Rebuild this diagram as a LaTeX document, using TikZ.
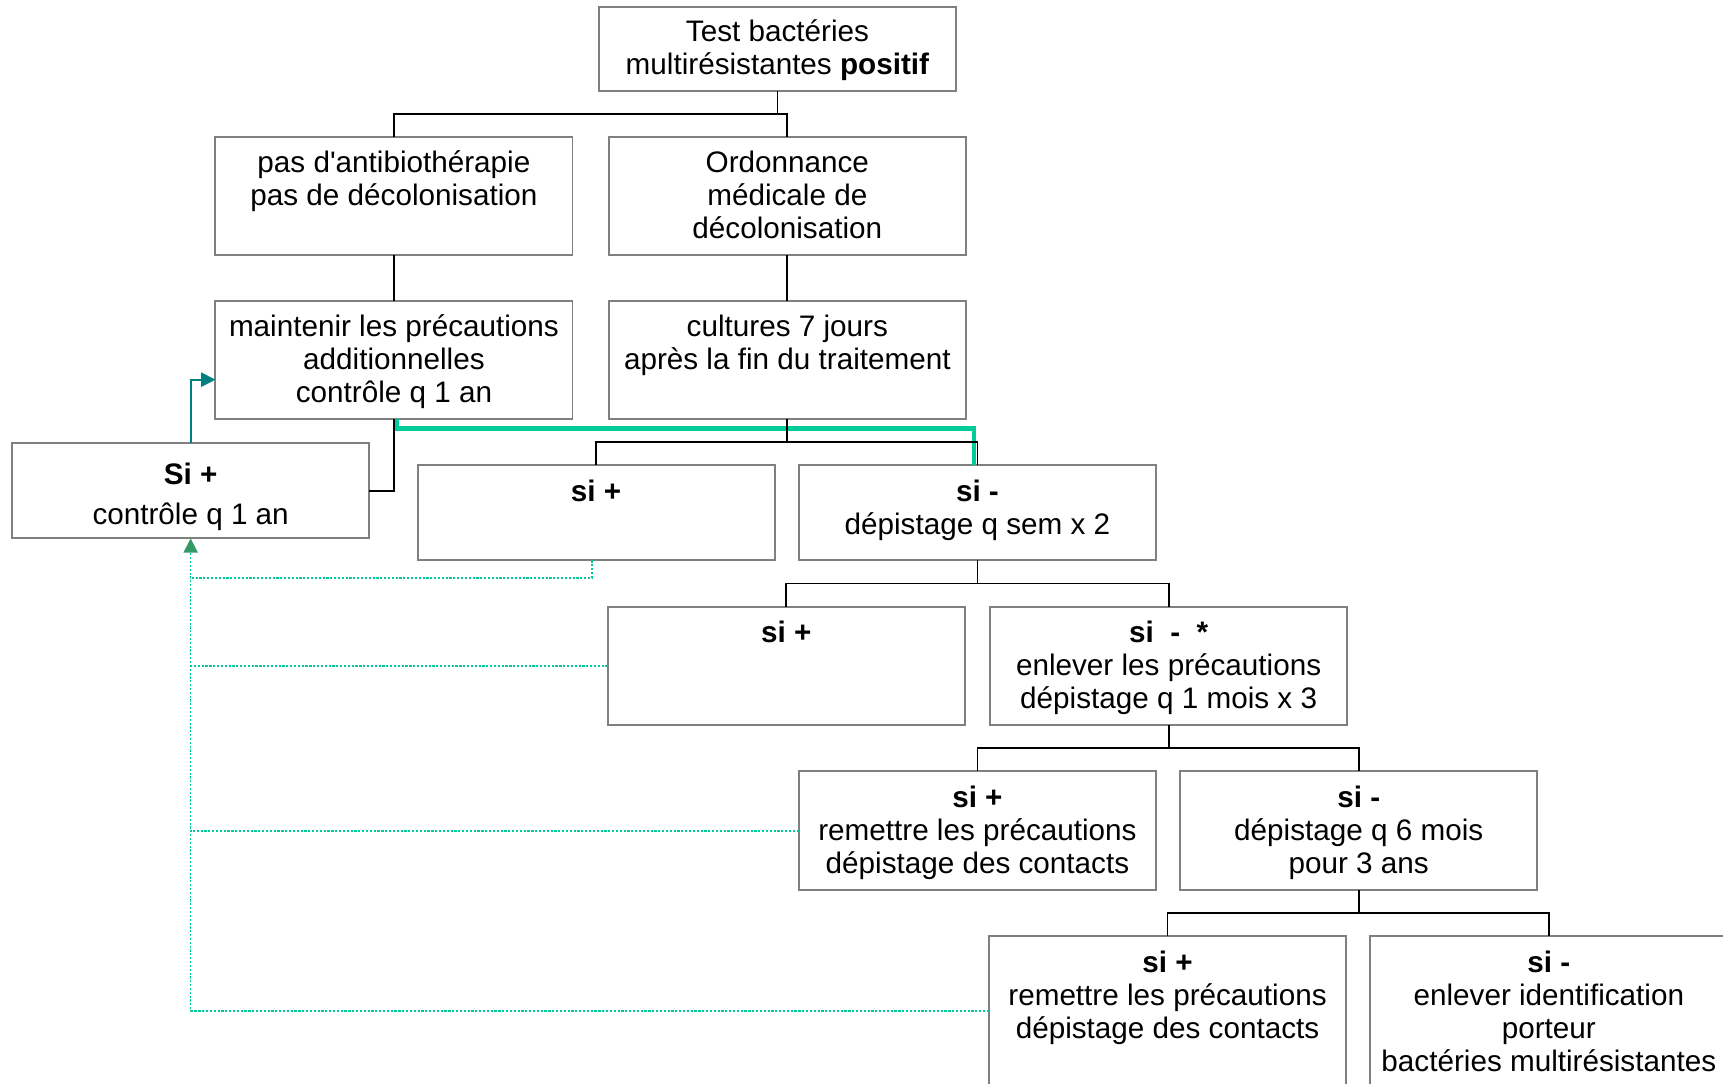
\documentclass[tikz,border=0pt]{standalone}
\usepackage{fontspec}
\setmainfont{Liberation Sans}
\usetikzlibrary{arrows.meta,calc}
\definecolor{boxgray}{RGB}{128,128,128}
\definecolor{tealc}{RGB}{0,128,128}
\definecolor{brightg}{RGB}{0,204,153}
\definecolor{arrowg}{RGB}{51,153,102}
\setlength{\lineskiplimit}{-20pt}
\newcommand{\bxt}[3][32pt]{\parbox[c][#2][t]{325pt}{\centering\rule{0pt}{#1}#3\par}}
\begin{document}
\begin{tikzpicture}[x=1pt,y=1pt,
  bx/.style={draw=boxgray, line width=1.8pt, inner sep=0pt, outer sep=0pt, anchor=north west, font=\fontsize{27}{30}\selectfont},
  conn/.style={draw=black, line width=1.7pt},
  greenthick/.style={draw=brightg, line width=4pt},
  tealarrow/.style={draw=tealc, line width=1.6pt, -{Triangle[length=13pt,width=13pt]}},
  dotg/.style={draw=brightg, line width=1.5pt, dash pattern=on 2pt off 1.5pt}]
\useasboundingbox (0,0) rectangle (1568,-986);
\fill[white] (0,0) rectangle (1568,-986);
\clip (0,0) rectangle (1568,-986);

\node[bx] (top) at (545,-6) {\bxt{77pt}{Test bactéries\\multirésistantes \textbf{positif}}};
\node[bx] (A) at (196,-125) {\bxt{107pt}{pas d\textquotesingle antibiothérapie\\pas de décolonisation}};
\node[bx] (B) at (554,-125) {\bxt{107pt}{Ordonnance\\médicale de\\décolonisation}};
\node[bx] (C) at (196,-274) {\bxt{107pt}{maintenir les précautions\\additionnelles\\contrôle q 1 an}};
\node[bx] (D) at (554,-274) {\bxt{107pt}{cultures 7 jours\\après la fin du traitement}};
\node[bx] (E) at (11,-403) {\bxt[38pt]{87pt}{\textbf{Si +}\\[6pt]contrôle q 1 an}};
\node[bx] (F) at (380,-423) {\bxt[33pt]{87pt}{\textbf{si +}}};
\node[bx] (G) at (727,-423) {\bxt[33pt]{87pt}{\textbf{si -}\\dépistage q sem x 2}};
\node[bx] (H) at (553,-552) {\bxt[33pt]{108pt}{\textbf{si +}}};
\node[bx] (I) at (901,-552) {\bxt[33pt]{108pt}{\textbf{si~ -~ *}\\enlever les précautions\\dépistage q 1 mois x 3}};
\node[bx] (J) at (727,-702) {\bxt[33pt]{108pt}{\textbf{si +}\\remettre les précautions\\dépistage des contacts}};
\node[bx] (K) at (1074,-702) {\bxt[33pt]{108pt}{\textbf{si -}\\dépistage q 6 mois\\pour 3 ans}};
\node[bx] (L) at (900,-852) {\bxt[33pt]{136pt}{\textbf{si +}\\remettre les précautions\\dépistage des contacts}};
\node[bx] (M) at (1247,-852) {\bxt[33pt]{150pt}{\textbf{si -}\\enlever identification\\porteur\\bactéries multirésistantes}};

% green dotted feedback lines
\draw[dotg, -{Triangle[length=13pt,width=13pt,color=arrowg,fill=arrowg]}] (L.west) -| (E.south);
\draw[dotg] (J.west) -- (J.west -| E.south);
\draw[dotg] (H.west) -- (H.west -| E.south);
\draw[dotg] ([xshift=-4pt]F.south) -- ++(0,-16) coordinate (fb) -- (fb -| E.south);

% green thick line
\draw[greenthick] ([xshift=3pt]C.south) -- ++(0,-9) -| ([xshift=-3pt]G.north);

% black tree connectors
\coordinate (j1) at ([yshift=-21pt]top.south);
\draw[conn] (top.south) -- (j1) -| (A.north);
\draw[conn] (j1) -| (B.north);
\draw[conn] (A.south) -- (C.north);
\draw[conn] (B.south) -- (D.north);
\draw[conn] (C.south) |- (E.east);
\coordinate (j2) at ([yshift=-21pt]D.south);
\draw[conn] (D.south) -- (j2) -| (F.north);
\draw[conn] (j2) -| (G.north);
\coordinate (j3) at ([yshift=-21pt]G.south);
\draw[conn] (G.south) -- (j3) -| (H.north);
\draw[conn] (j3) -| (I.north);
\coordinate (j4) at ([yshift=-21pt]I.south);
\draw[conn] (I.south) -- (j4) -| (J.north);
\draw[conn] (j4) -| (K.north);
\coordinate (j5) at ([yshift=-21pt]K.south);
\draw[conn] (K.south) -- (j5) -| (L.north);
\draw[conn] (j5) -| (M.north);

% teal arrow
\draw[tealarrow] (E.north) |- ([yshift=-18pt]C.west);
\end{tikzpicture}
\end{document}
